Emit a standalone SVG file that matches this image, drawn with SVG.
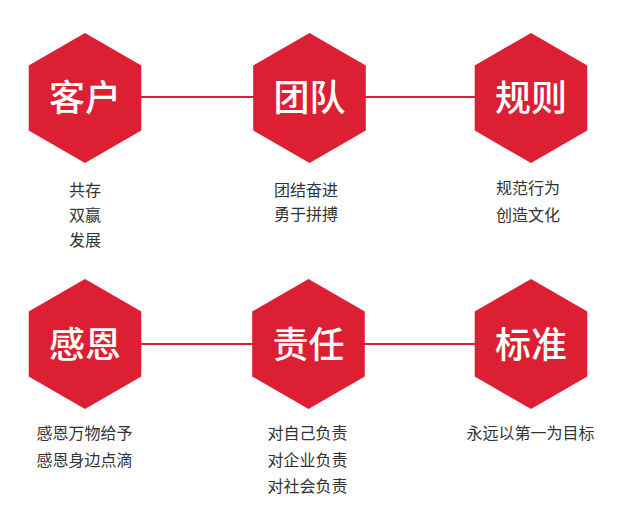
<svg xmlns="http://www.w3.org/2000/svg" xmlns:xlink="http://www.w3.org/1999/xlink" width="620" height="520" viewBox="0 0 620 520">
<style>
.hex{fill:#dc1f33}
.title{fill:#ffffff;font-family:"Noto Sans CJK SC","Noto Sans",sans-serif;font-size:36px;text-anchor:middle;font-weight:500}
.desc{fill:#333333;font-family:"Noto Sans CJK SC","Noto Sans",sans-serif;font-size:16px;text-anchor:middle}
.link{stroke:#dc1f33;stroke-width:2;fill:none}
</style>
<defs>
<polygon id="hexShape" points="0,-65 56.3,-32.5 56.3,32.5 0,65 -56.3,32.5 -56.3,-32.5"/>
</defs>
<rect width="620" height="520" fill="#ffffff"/>
<g id="connectors">
<line class="link" x1="140" y1="97" x2="254" y2="97"/>
<line class="link" x1="365" y1="97" x2="476" y2="97"/>
<line class="link" x1="140" y1="344" x2="253" y2="344"/>
<line class="link" x1="364" y1="344" x2="476" y2="344"/>
</g>
<g id="node-kehu">
<use xlink:href="#hexShape" class="hex" x="85" y="98"/>
<text class="title" x="85" y="111">客户</text>
<text class="desc" x="85" y="195.5">共存</text>
<text class="desc" x="85" y="220.5">双赢</text>
<text class="desc" x="85" y="246">发展</text>
</g>
<g id="node-tuandui">
<use xlink:href="#hexShape" class="hex" x="309.5" y="98"/>
<text class="title" x="309.5" y="111">团队</text>
<text class="desc" x="306" y="195.5">团结奋进</text>
<text class="desc" x="306" y="220">勇于拼搏</text>
</g>
<g id="node-guize">
<use xlink:href="#hexShape" class="hex" x="531" y="98"/>
<text class="title" x="531" y="111">规则</text>
<text class="desc" x="528" y="194">规范行为</text>
<text class="desc" x="528" y="221">创造文化</text>
</g>
<g id="node-ganen">
<use xlink:href="#hexShape" class="hex" x="85" y="344"/>
<text class="title" x="85" y="358">感恩</text>
<text class="desc" x="84.5" y="438.5">感恩万物给予</text>
<text class="desc" x="84.5" y="465.5">感恩身边点滴</text>
</g>
<g id="node-zeren">
<use xlink:href="#hexShape" class="hex" x="308.5" y="344"/>
<text class="title" x="308.5" y="358">责任</text>
<text class="desc" x="307.5" y="438.5">对自己负责</text>
<text class="desc" x="307.5" y="465.5">对企业负责</text>
<text class="desc" x="307.5" y="492">对社会负责</text>
</g>
<g id="node-biaozhun">
<use xlink:href="#hexShape" class="hex" x="531" y="344"/>
<text class="title" x="531" y="358">标准</text>
<text class="desc" x="530.5" y="438.5">永远以第一为目标</text>
</g>
</svg>
